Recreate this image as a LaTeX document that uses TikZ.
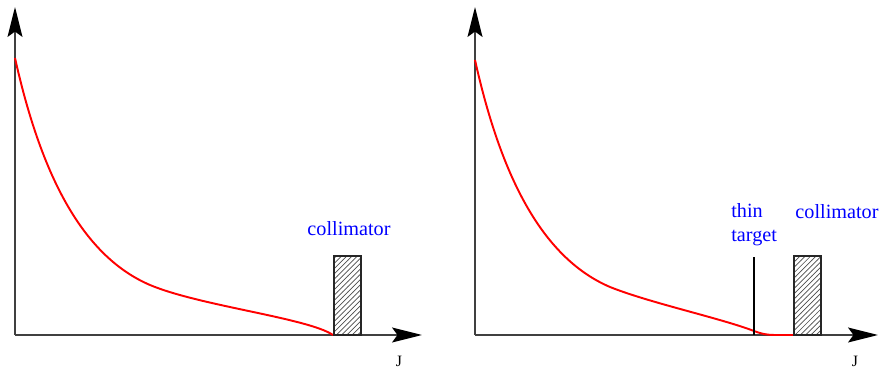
\documentclass[tikz,border=0pt]{standalone}
\usepackage{fontspec}
\setmainfont{Liberation Serif}
\usepackage{tikz}
\usetikzlibrary{arrows.meta,patterns,positioning}
\tikzset{
  axis/.style={draw=black!75, line width=1pt,
               -{Stealth[length=17pt,width=8.5pt,inset=3pt,color=black]}},
  spectrum/.style={red, line width=1.1pt},
  collim/.style={draw=black!85, line width=0.9pt, pattern=north east lines, pattern color=black!70},
  foil/.style={line width=1.7pt},
  lbl/.style={font=\fontsize{11.5}{13.5}\selectfont, text=blue, inner sep=0pt},
  axlbl/.style={font=\fontsize{9}{10}\selectfont, inner sep=0pt},
}
\def\yA{335}
\newcommand{\drawaxes}[3]{% y-axis x, x-axis tip, name of J node
  \draw[axis] (#1,\yA) -- (#1,7);
  \draw[axis] (#1,\yA) -- (#2,\yA);
  \node[axlbl] (#3) at ({#2-23},361) {J};}
\newcommand{\collimator}[2]{% left edge, name
  \draw[collim] (#1,256) rectangle ({#1+27},\yA);
  \coordinate (#2) at ({#1+13.5},256);}

\begin{document}
\begin{tikzpicture}[x=0.02cm, y=-0.02cm]
  \useasboundingbox (0,0) rectangle (880,371);
  % left panel
  \drawaxes{15}{422}{jL}
  \draw[spectrum] (15,58) .. controls (40,170) and (80,255) .. (150,285)
    .. controls (200,306) and (308,318) .. (333,335);
  \collimator{334}{cL}
  \node[lbl] (collL) at (349,229) {collimator};
  % right panel
  \drawaxes{475}{878}{jR}
  \draw[spectrum] (475,60) .. controls (500,172) and (540,257) .. (610,287)
    .. controls (650,303) and (720,318) .. (754,331)
    .. controls (766,335.6) and (772,335) .. (785,335) -- (794,335);
  \coordinate (tgtTop) at (754,257);
  \coordinate (tgtBot) at (754,\yA);
  \draw[foil] (tgtBot) -- (tgtTop);
  \node[lbl, anchor=west, align=left] (tgt) at (731,225) {thin\\target};
  \collimator{794}{cR}
  \node[lbl] (collR) at (837,212) {collimator};
\end{tikzpicture}
\end{document}
